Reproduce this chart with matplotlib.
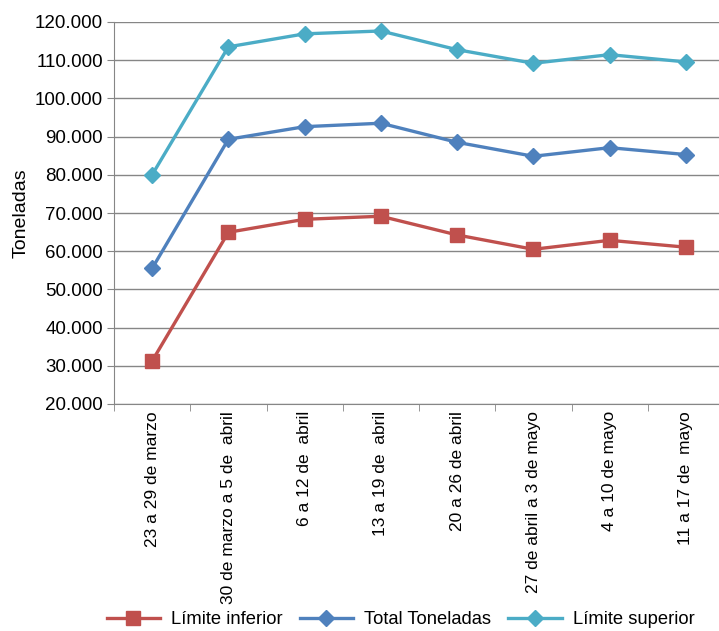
import matplotlib
matplotlib.use('Agg')
import matplotlib.pyplot as plt
from matplotlib.ticker import FuncFormatter

plt.rcParams['font.family'] = ['Liberation Sans', 'DejaVu Sans']

semanas = ['23 a 29 de marzo', '30 de marzo a 5 de  abril', '6 a 12 de  abril',
           '13 a 19 de  abril', '20 a 26 de abril', '27 de abril a 3 de mayo',
           '4 a 10 de mayo', '11 a 17 de  mayo']
limite_inferior = [31250, 64950, 68350, 69150, 64250, 60500, 62850, 61050]
total_toneladas = [55500, 89300, 92600, 93500, 88500, 84850, 87100, 85300]
limite_superior = [80000, 113500, 116900, 117650, 112750, 109200, 111450, 109550]

fig = plt.figure(figsize=(7.19, 6.31), dpi=100)
ax = fig.add_axes([114 / 719, 1 - 404 / 631, 610 / 719, 382 / 631])

x = range(len(semanas))
ax.plot(x, limite_inferior, color='#C0504D', marker='s', markersize=10, linewidth=2.4,
        label='Límite inferior')
ax.plot(x, total_toneladas, color='#4F81BD', marker='D', markersize=8.5, linewidth=2.4,
        label='Total Toneladas')
ax.plot(x, limite_superior, color='#4BACC6', marker='D', markersize=8.5, linewidth=2.4,
        label='Límite superior')

ax.set_xlim(-0.5, len(semanas) - 0.5)
ax.set_ylim(20000, 120000)
ax.set_yticks(range(20000, 120001, 10000))
ax.yaxis.set_major_formatter(FuncFormatter(lambda v, p: '{:,.0f}'.format(v).replace(',', '.')))
ax.set_xticks(list(x))
ax.set_xticklabels(semanas, rotation=90, va='top', ha='center', fontsize=12.5)
ax.set_xticks([i + 0.5 for i in range(-1, len(semanas))], minor=True)
ax.tick_params(axis='x', which='major', length=0, pad=5)
ax.tick_params(axis='x', which='minor', length=5, color='#868686')
ax.tick_params(axis='y', length=5, color='#868686', labelsize=13.5, pad=3)
ax.grid(axis='y', color='#868686', linewidth=1)
ax.set_axisbelow(True)
for s in ['top', 'right']:
    ax.spines[s].set_visible(False)
for s in ['left', 'bottom']:
    ax.spines[s].set_color('#868686')
ax.set_ylabel('Toneladas', fontsize=14, labelpad=4)

fig.legend(loc='center left', bbox_to_anchor=(92 / 719, 1 - 620 / 631), ncol=3,
           frameon=False, fontsize=13.2, handlelength=2.9, columnspacing=0.95,
           handletextpad=0.6, borderpad=0.3)

fig.savefig('out.png', dpi=100)
